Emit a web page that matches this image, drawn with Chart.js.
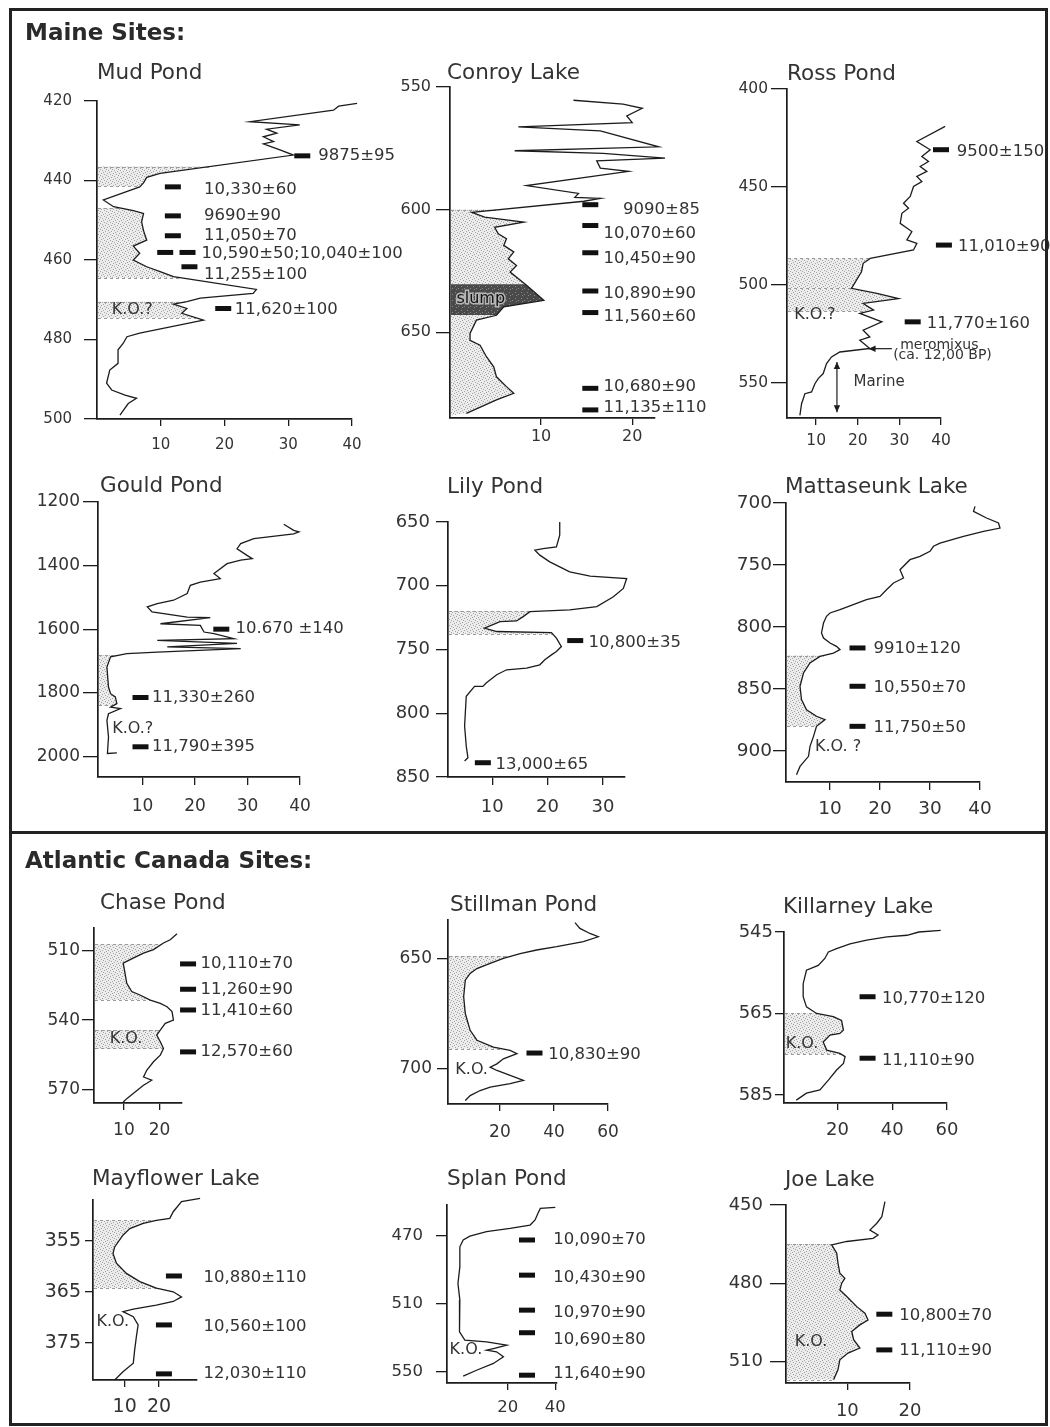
<!DOCTYPE html>
<html><head><meta charset="utf-8">
<script src="https://cdn.jsdelivr.net/npm/chart.js@4.4.1/dist/chart.umd.min.js"></script>
<style>
html,body{margin:0;padding:0;background:#fff;}
#page{position:relative;width:1050px;height:1427px;overflow:hidden;background:#fff;font-family:'DejaVu Sans',sans-serif;}
#page canvas{position:absolute;}
.frame{position:absolute;border:3px solid #222;box-sizing:border-box;}
.hdr{position:absolute;font:bold 23px 'DejaVu Sans',sans-serif;line-height:23px;color:#2a2a2a;white-space:nowrap;}
.ttl{position:absolute;font:21.5px 'DejaVu Sans',sans-serif;line-height:21.5px;color:#333;white-space:nowrap;}
</style></head><body><div id="page"></div>
<script>
// ---------------- DATA ----------------
const regionHeaders = ['Maine Sites:', 'Atlantic Canada Sites:'];
const siteNames = ['Mud Pond','Conroy Lake','Ross Pond','Gould Pond','Lily Pond','Mattaseunk Lake','Chase Pond','Stillman Pond','Killarney Lake','Mayflower Lake','Splan Pond','Joe Lake'];

// profiles are [value, depth] pairs
const mudProfile = [[40.8,420.6],[37.9,421.3],[37.1,422.3],[24,425.2],[31.8,426],[26.6,427.1],[28.2,428.1],[26.1,429],[27.7,430.2],[26.1,430.8],[28.7,432.3],[30.8,433.6],[9.9,438.2],[7.8,439.2],[7.3,440.6],[6.7,441.6],[1.0,444.9],[2.6,446.6],[5.7,447.6],[7.3,448.3],[7.0,450.4],[7.3,452.6],[7.8,455],[5.7,456.5],[6.7,458.3],[5.7,460],[7.8,461.7],[9.9,462.9],[12,464.2],[25.0,467.4],[24.5,468.4],[16.2,469.6],[14.1,470.5],[12,471.1],[14.1,472.2],[13.3,473.4],[16.7,475.1],[6.7,478.4],[4.7,479.3],[4.1,481],[3.3,482.6],[3.3,486],[2.0,487.7],[1.5,491],[2.3,492.7],[4.4,494],[6.2,494.8],[4.9,496.1],[3.6,499]];
const mudBars = [[32.2,433.8],[11.9,441.6],[11.9,448.9],[11.9,453.9],[10.7,458.1],[14.2,458.1],[14.5,461.7],[19.8,472.2]];
const mudDates = ['9875±95','10,330±60','9690±90','11,050±70','10,590±50;10,040±100','11,255±100','11,620±100'];
const mudDatePos = [[34.7,433.8],[16.8,442.4],[16.8,448.9],[16.8,453.9],[16.4,458.4],[16.8,463.8],[21.6,472.6]];
const mudNotes = ['K.O.?'];
const mudNotePos = [[2.3,472.6]];
const mudShades = [[436.5,441.5],[447,464.5],[470.5,474.5]];
const mudXRange = [0,40], mudYRange = [420,500];
const mudXTicks = [10,20,30,40], mudYTicks = [420,440,460,480,500];

const conroyProfile = [[13.55,555.4],[19.0,557.0],[21.1,558.7],[19.4,561.8],[20.0,564.5],[7.5,566.3],[16.5,567.9],[22.9,574.4],[7.1,576.0],[16.8,577.1],[23.6,579.0],[16.1,580.1],[16.5,583.1],[19.6,584.4],[8.4,590.2],[14.1,593.4],[13.7,595.0],[16.5,595.4],[14.7,596.6],[2.4,601.1],[3.8,603.1],[8.1,605.1],[4.9,607.2],[5.3,609.9],[6.2,611.9],[5.9,614.6],[7.0,617.3],[6.4,620.1],[7.3,622.8],[6.6,625.5],[8.4,630.9],[10.3,637.0],[5.9,639.7],[5.1,643.1],[2.9,645.1],[2.2,650.5],[2.2,653.3],[3.3,655.3],[4.0,660.0],[4.8,664.1],[5.1,668.2],[6.2,672.2],[7.0,674.9],[5.1,677.6],[1.8,683.1]];
const conroyBars = [[15.4,598.0],[15.4,606.5],[15.4,617.6],[15.4,633.2],[15.4,642.0],[15.4,672.9],[15.4,681.7]];
const conroyDates = ['9090±85','10,070±60','10,450±90','10,890±90','11,560±60','10,680±90','11,135±110'];
const conroyDatePos = [[19.0,600.1],[16.85,609.9],[16.85,620.0],[16.85,634.3],[16.85,643.8],[16.85,672.2],[16.85,681.0]];
const conroyNotes = ['slump'];
const conroyNotePos = [[0.7,636.3]];
const conroyShades = [[600,684]];
const conroySlump = [[630.5,643]];
const conroyXRange = [0,22.5], conroyYRange = [550,685];
const conroyXTicks = [10,20], conroyYTicks = [550,600,650];

const rossProfile = [[41.0,419.1],[34.2,426.8],[37.4,431.0],[35.4,434.5],[37.0,437.0],[35.0,439.6],[36.6,442.1],[34.2,444.7],[35.4,447.3],[33.4,449.8],[32.6,454.9],[31.0,458.3],[32.2,460.9],[30.6,463.5],[30.2,468.6],[33.0,472.8],[31.8,477.1],[34.2,478.8],[33.4,482.2],[23.0,486.5],[21.3,489.0],[20.9,493.3],[18.5,501.8],[24.6,504.4],[29.8,507.0],[21.3,509.5],[23.8,512.9],[20.5,514.6],[25.8,518.9],[21.3,523.2],[22.9,526.6],[20.5,528.3],[22.9,532.5],[15.7,534.3],[13.7,536.8],[12.5,540.2],[11.7,545.3],[10.5,547.9],[9.7,550.5],[8.9,554.7],[7.3,555.6],[6.5,560.7],[6.1,566.7]];
const rossBars = [[40.0,431.0],[40.7,479.7],[33.2,518.9]];
const rossDates = ['9500±150','11,010±90','11,770±160'];
const rossDatePos = [[43.8,431.9],[44.1,480.6],[36.6,519.7]];
const rossNotes = ['K.O.?','meromixus','(ca. 12,00 BP)','Marine'];
const rossNotePos = [[4.75,515.5],[30.2,530.9],[28.5,536.0],[19.0,549.6]];
const rossNoteSize = [16,14,14,15];
const rossArrows = [[28.2,532.6,22.6,532.6,1],[15.0,539.4,15.0,565,2]];
const rossShades = [[486.5,501.8],[501.8,513.5]];
const rossXRange = [3,40], rossYRange = [400,568];
const rossXTicks = [10,20,30,40], rossYTicks = [400,450,500,550];

const gouldProfile = [[36.9,1270],[38.8,1289],[39.8,1294],[38.8,1300],[31.2,1315],[28.7,1331],[28.0,1347],[29.9,1368],[30.9,1378],[28.7,1383],[26.1,1394],[23.6,1425],[24.8,1441],[21.0,1452],[19.1,1462],[18.5,1488],[15.9,1509],[12.8,1520],[10.9,1530],[11.8,1546],[18.5,1562],[22.9,1564],[13.4,1583],[21.0,1588],[21.7,1609],[23.6,1614],[27.4,1630],[12.8,1635],[28.0,1645],[14.7,1656],[28.7,1661],[12.8,1672],[7.0,1677],[3.9,1687],[3.2,1719],[3.5,1782],[3.9,1803],[4.8,1813],[5.1,1834],[3.9,1845],[5.8,1850],[3.5,1866],[3.2,1887],[3.5,1939],[3.3,1991],[5.1,1989]];
const gouldBars = [[25.0,1600],[9.6,1815],[9.6,1970]];
const gouldDates = ['10.670 ±140','11,330±260','11,790±395'];
const gouldDatePos = [[27.7,1600],[11.8,1815],[11.8,1970]];
const gouldNotes = ['K.O.?'];
const gouldNotePos = [[4.2,1912.6]];
const gouldShades = [[1682,1840]];
const gouldXRange = [1.5,40], gouldYRange = [1200,2065];
const gouldXTicks = [10,20,30,40], gouldYTicks = [1200,1400,1600,1800,2000];

const lilyProfile = [[22.2,650],[22.2,660.4],[21.6,669.5],[19.2,670.8],[17.7,672.1],[18.6,676],[20.4,681.3],[22.2,685.2],[24.0,689.1],[27.7,692.4],[34.3,694.3],[33.7,702.1],[31.9,708.6],[28.9,716.4],[24.0,719],[16.8,720.3],[15.6,724.2],[14.4,727.6],[11.4,728.1],[8.6,733.3],[10.8,735.9],[20.7,736.7],[21.6,741.1],[22.5,747.7],[21.6,751.6],[20.7,754.2],[19.5,758.1],[18.6,762],[16.2,764.6],[12.6,765.9],[10.8,769.8],[8.9,776.3],[8.3,778.9],[6.8,778.9],[5.3,786.7],[5.0,810],[5.3,825.8],[5.6,834.9],[5.0,837.5]];
const lilyBars = [[25.0,743],[8.3,838.8]];
const lilyDates = ['10,800±35','13,000±65'];
const lilyDatePos = [[27.4,745],[10.6,840.1]];
const lilyNotes = [];
const lilyNotePos = [];
const lilyShades = [[720,738]];
const lilyXRange = [2,34], lilyYRange = [650,850];
const lilyXTicks = [10,20,30], lilyYTicks = [650,700,750,800,850];

const mattProfile = [[39,702.7],[38.7,706.7],[41.3,712.1],[43.7,716.1],[44,720.2],[40.7,722.8],[36.7,726.9],[32,732.3],[30.7,734.9],[30,739],[28,743],[26,745.7],[24,753.8],[24.7,760.5],[22.7,764.5],[21.3,769.9],[20,775.3],[17.3,778],[12,786],[10,788.7],[9.3,791.4],[8.7,796.8],[8.3,804.8],[8.7,808.9],[10,812.9],[11.3,815.6],[12,818.3],[10.7,821],[8,823.7],[6,829],[4.7,837.1],[4,847.8],[4.3,858.6],[5.3,866.7],[7.3,872],[9,874.7],[7.3,880.1],[6.7,888.2],[6,896.2],[5.7,904.3],[4,912.4],[3.3,919.1]];
const mattBars = [[15.5,816.9],[15.5,847.8],[15.5,880.1]];
const mattDates = ['9910±120','10,550±70','11,750±50'];
const mattDatePos = [[18.7,817.7],[18.7,848.7],[18.7,880.9]];
const mattNotes = ['K.O. ?'];
const mattNotePos = [[7.0,896.3]];
const mattShades = [[823,880]];
const mattXRange = [1.2,40], mattYRange = [700,925];
const mattXTicks = [10,20,30,40], mattYTicks = [700,750,800,850,900];

const chaseProfile = [[24.9,502.5],[23,505.1],[21.1,506.5],[18.3,509.4],[15.5,510.9],[12.6,513.1],[9.8,515.3],[10.3,519.6],[10.8,524],[12.2,527.6],[14.5,529.1],[17.4,531.3],[20.2,532.7],[22.1,534.2],[23.5,536.3],[23.9,540],[21.6,541.4],[20.2,544.3],[19.2,546.5],[20.2,549.4],[21.1,552.3],[20.2,555.2],[18.3,558.1],[16.4,561.8],[15.5,564.7],[17.8,566.1],[15.5,568.3],[12.6,571.9],[10.8,574.1],[9.8,575.6]];
const chaseBars = [[28.0,515.6],[28.0,526.6],[28.0,535.6],[28.0,553.8]];
const chaseDates = ['10,110±70','11,260±90','11,410±60','12,570±60'];
const chaseDatePos = [[31.5,515.6],[31.5,526.6],[31.5,536],[31.5,553.8]];
const chaseNotes = ['K.O.'];
const chaseNotePos = [[6.0,548.0]];
const chaseShades = [[507,531.3],[544.3,552.3]];
const chaseXRange = [1.6,26.3], chaseYRange = [500,576];
const chaseXTicks = [10,20], chaseYTicks = [510,540,570];

const stillProfile = [[47.8,633.8],[49.6,636.4],[53.3,638.7],[56.4,640.2],[50.9,642.4],[41,644.7],[33.6,646.2],[27.5,647.8],[21.3,650],[16.4,652.3],[11.5,654.6],[9,656.8],[7.2,659.9],[6.6,667.4],[7.2,675],[9,682.6],[11.5,687.1],[17.6,690.2],[23.8,691.7],[26.3,693.2],[21.3,695.5],[18.9,697.8],[16.4,699.3],[18.9,700.8],[23.8,703],[28.7,705.3],[23.8,706.8],[16.4,708.4],[12.7,709.9],[9,712.2],[7.2,714.4]];
const stillBars = [[32.8,692.9]];
const stillDates = ['10,830±90'];
const stillDatePos = [[37.9,693.7]];
const stillNotes = ['K.O.'];
const stillNotePos = [[3.5,700.5]];
const stillShades = [[649,691]];
const stillXRange = [0.8,60], stillYRange = [632.6,716];
const stillXTicks = [20,40,60], stillYTicks = [650,700];

const killProfile = [[57.7,544.6],[49.7,545],[45.4,545.8],[38.1,546.2],[30.7,547],[24.6,547.9],[19.7,549.1],[16.7,549.9],[15.4,551.5],[13,553.2],[8.7,554.4],[7.5,557.7],[7.5,560.9],[8.7,563.4],[12.4,565],[18.5,565.8],[21.5,566.7],[22.2,569.1],[20.9,569.9],[17.3,570.3],[14.8,572],[16.1,574],[20.9,574.8],[22.8,575.6],[22.2,577.3],[19.7,578.9],[16.7,581.4],[13.6,583.8],[8.7,584.6],[5,586.3]];
const killBars = [[31,560.9],[31,576.0]];
const killDates = ['10,770±120','11,110±90'];
const killDatePos = [[36.3,561.3],[36.3,576.6]];
const killNotes = ['K.O.'];
const killNotePos = [[1.1,572.5]];
const killShades = [[565,575]];
const killXRange = [0.5,60], killYRange = [545,587];
const killXTicks = [20,40,60], killYTicks = [545,565,585];

const mayProfile = [[31.9,346.7],[26.5,347.3],[24.1,349.3],[23.1,350.6],[19.2,351],[15.4,351.6],[11.5,352.6],[9.5,353.9],[7.1,356.2],[6.6,357.5],[7.6,359.4],[10.5,361.4],[14.4,363],[19.2,364.3],[24.1,365],[26.5,366],[24.1,366.9],[19.2,367.6],[12.5,368.4],[9.5,368.9],[12.5,369.9],[13.9,371.5],[13.4,373.8],[12.9,376.4],[12.5,379],[9.5,380.7],[7.1,382.3]];
const mayBars = [[24.3,361.9],[21.4,371.5],[21.4,381.1]];
const mayDates = ['10,880±110','10,560±100','12,030±110'];
const mayDatePos = [[32.9,362.2],[32.9,371.8],[32.9,381.0]];
const mayNotes = ['K.O.'];
const mayNotePos = [[1.8,370.9]];
const mayShades = [[351,364.3]];
const mayXRange = [0.8,31], mayYRange = [347,382.3];
const mayXTicks = [10,20], mayYTicks = [355,365,375];

const splanProfile = [[40,453.1],[33.7,453.7],[32.7,456.6],[31.5,460.5],[29.4,463.5],[21,465.5],[11.1,467.4],[4.1,470],[1.3,472.3],[-0.1,476.3],[-0.1,488],[-0.9,497.9],[-0.1,507.7],[-0.4,517.5],[-0.1,526.4],[2,531.3],[11.1,532.3],[19.6,534.2],[14,536.2],[11.1,537.2],[15.3,538.1],[18.2,541.1],[14,545],[6.9,549],[1.3,552.5]];
const splanBars = [[28.1,472.3],[28.1,493.0],[28.1,513.6],[28.1,526.9],[28.1,551.9]];
const splanDates = ['10,090±70','10,430±90','10,970±90','10,690±80','11,640±90'];
const splanDatePos = [[39.1,472.3],[39.1,494.5],[39.1,515.1],[39.1,530.8],[39.1,551.2]];
const splanNotes = ['K.O.'];
const splanNotePos = [[-4.4,537.2]];
const splanShades = [];
const splanXRange = [-5.5,40.7], splanYRange = [451.7,556.5];
const splanXTicks = [20,40], splanYTicks = [470,510,550];

const joeProfile = [[16,448.7],[15.5,454.5],[14.7,457],[13.6,459.6],[14.9,461.5],[14.1,462.8],[9.9,464],[7.5,465.3],[8.3,468.5],[8.5,472.3],[8.8,476.2],[9.6,478.1],[9.1,480],[8.8,482.6],[9.9,485.1],[11.5,489],[12.8,491.5],[13.3,494.1],[12,496],[10.7,498.5],[11,501.7],[12,504.9],[10.1,506.8],[8.8,509.4],[8.5,513.2],[7.8,517]];
const joeBars = [[15.9,491.9],[15.9,505.6]];
const joeDates = ['10,800±70','11,110±90'];
const joeDatePos = [[18.3,492.5],[18.3,506.1]];
const joeNotes = ['K.O.'];
const joeNotePos = [[1.6,502.4]];
const joeShades = [[465,517]];
const joeXRange = [0.2,20], joeYRange = [450,518.3];
const joeXTicks = [10,20], joeYTicks = [450,480,510];

// ---------------- PANEL TABLE (built from the arrays) ----------------
const panels = [
 {profile:mudProfile,bars:mudBars,dates:mudDates,datePos:mudDatePos,notes:mudNotes,notePos:mudNotePos,shades:mudShades,xr:mudXRange,yr:mudYRange,xt:mudXTicks,yt:mudYTicks},
 {profile:conroyProfile,bars:conroyBars,dates:conroyDates,datePos:conroyDatePos,notes:conroyNotes,notePos:conroyNotePos,shades:conroyShades,slump:conroySlump,xr:conroyXRange,yr:conroyYRange,xt:conroyXTicks,yt:conroyYTicks},
 {profile:rossProfile,bars:rossBars,dates:rossDates,datePos:rossDatePos,notes:rossNotes,notePos:rossNotePos,noteSize:rossNoteSize,arrows:rossArrows,shades:rossShades,xr:rossXRange,yr:rossYRange,xt:rossXTicks,yt:rossYTicks},
 {profile:gouldProfile,bars:gouldBars,dates:gouldDates,datePos:gouldDatePos,notes:gouldNotes,notePos:gouldNotePos,shades:gouldShades,xr:gouldXRange,yr:gouldYRange,xt:gouldXTicks,yt:gouldYTicks},
 {profile:lilyProfile,bars:lilyBars,dates:lilyDates,datePos:lilyDatePos,notes:lilyNotes,notePos:lilyNotePos,shades:lilyShades,xr:lilyXRange,yr:lilyYRange,xt:lilyXTicks,yt:lilyYTicks},
 {profile:mattProfile,bars:mattBars,dates:mattDates,datePos:mattDatePos,notes:mattNotes,notePos:mattNotePos,shades:mattShades,xr:mattXRange,yr:mattYRange,xt:mattXTicks,yt:mattYTicks},
 {profile:chaseProfile,bars:chaseBars,dates:chaseDates,datePos:chaseDatePos,notes:chaseNotes,notePos:chaseNotePos,shades:chaseShades,xr:chaseXRange,yr:chaseYRange,xt:chaseXTicks,yt:chaseYTicks},
 {profile:stillProfile,bars:stillBars,dates:stillDates,datePos:stillDatePos,notes:stillNotes,notePos:stillNotePos,shades:stillShades,xr:stillXRange,yr:stillYRange,xt:stillXTicks,yt:stillYTicks},
 {profile:killProfile,bars:killBars,dates:killDates,datePos:killDatePos,notes:killNotes,notePos:killNotePos,shades:killShades,xr:killXRange,yr:killYRange,xt:killXTicks,yt:killYTicks},
 {profile:mayProfile,bars:mayBars,dates:mayDates,datePos:mayDatePos,notes:mayNotes,notePos:mayNotePos,shades:mayShades,xr:mayXRange,yr:mayYRange,xt:mayXTicks,yt:mayYTicks},
 {profile:splanProfile,bars:splanBars,dates:splanDates,datePos:splanDatePos,notes:splanNotes,notePos:splanNotePos,shades:splanShades,xr:splanXRange,yr:splanYRange,xt:splanXTicks,yt:splanYTicks},
 {profile:joeProfile,bars:joeBars,dates:joeDates,datePos:joeDatePos,notes:joeNotes,notePos:joeNotePos,shades:joeShades,xr:joeXRange,yr:joeYRange,xt:joeXTicks,yt:joeYTicks}
];

// ---------------- LAYOUT (page geometry & styling) ----------------
const frames = [
 {left:97,right:352,top:101,bottom:419,font:15,ytl:13,ygap:25,xtl:7,xoff:26,tx:97,ty:79,col:440},
 {left:450,right:654.75,top:87,bottom:418,font:16,ytl:14,ygap:19,xtl:7,xoff:19,tx:447,ty:79,col:770},
 {left:787,right:941,top:89,bottom:417.6,font:15.5,ytl:16,ygap:19,xtl:7,xoff:23,tx:787,ty:80,col:1050},
 {left:98,right:300,top:502,bottom:776.8,font:17,ytl:15,ygap:18,xtl:8,xoff:30,tx:100,ty:492,col:440},
 {left:448,right:625,top:522,bottom:777.3,font:18,ytl:12,ygap:18,xtl:8,xoff:30,tx:447,ty:493,col:770},
 {left:786,right:980,top:503,bottom:782.3,font:18.5,ytl:13,ygap:14,xtl:8,xoff:27,tx:785,ty:493,col:1050},
 {left:94,right:181.7,top:928,bottom:1102.6,font:17,ytl:12,ygap:14,xtl:7,xoff:28,tx:100,ty:909,col:440},
 {left:448,right:608.3,top:920,bottom:1103.5,font:17,ytl:11,ygap:16,xtl:7,xoff:28.5,tx:450,ty:911,col:770},
 {left:784,right:946.7,top:932,bottom:1103.1,font:18,ytl:9,ygap:11,xtl:7,xoff:27,tx:783,ty:913,col:1050},
 {left:93,right:196.9,top:1200,bottom:1380,font:19,ytl:8,ygap:12,xtl:7,xoff:27,tx:92,ty:1185,col:440},
 {left:447,right:556.6,top:1205,bottom:1382.7,font:16.5,ytl:11,ygap:24,xtl:7,xoff:25,tx:447,ty:1185,col:770},
 {left:786,right:910,top:1205,bottom:1383.3,font:18,ytl:16,ygap:23,xtl:7,xoff:28,tx:785,ty:1186,col:1050}
];

const INK = '#1c1c1c', TXT = '#333', FAM = "'DejaVu Sans', sans-serif";
Chart.defaults.font.family = FAM;

function makeTile(base, dot, pts){
  const c=document.createElement('canvas'); c.width=c.height=6;
  const g=c.getContext('2d'); g.fillStyle=base; g.fillRect(0,0,6,6);
  g.fillStyle=dot; pts.forEach(([a,b])=>g.fillRect(a,b,1,1)); return c;
}
const stippleTile = makeTile('#ececec','#a4a4a4',[[0,0],[3,1],[1,3],[4,4],[5,2],[2,5]]);
const slumpTile = makeTile('#4a4a4a','#888',[[1,1],[4,3],[2,4]]);

function clipProfile(prof, t, b){
  const out=[];
  for(let i=0;i<prof.length-1;i++){
    const [v0,d0]=prof[i], [v1,d1]=prof[i+1];
    let s0=0,s1=1;
    if(d1!==d0){
      const a=(t-d0)/(d1-d0), c=(b-d0)/(d1-d0);
      s0=Math.max(0,Math.min(a,c)); s1=Math.min(1,Math.max(a,c));
      if(s0>s1) continue;
    } else if(d0<t||d0>b) continue;
    out.push([v0+(v1-v0)*s0,d0+(d1-d0)*s0]); out.push([v0+(v1-v0)*s1,d0+(d1-d0)*s1]);
  }
  return out;
}
function valueAt(prof, d){
  for(let i=0;i<prof.length-1;i++){
    const [v0,d0]=prof[i],[v1,d1]=prof[i+1];
    if((d-d0)*(d-d1)<=0 && d1!==d0) return v0+(v1-v0)*(d-d0)/(d1-d0);
  }
  return null;
}
function head(ctx,x0,y0,x1,y1){
  const a=Math.atan2(y1-y0,x1-x0), L=7, W=3.2;
  ctx.beginPath(); ctx.moveTo(x1,y1);
  ctx.lineTo(x1-L*Math.cos(a)+W*Math.sin(a), y1-L*Math.sin(a)-W*Math.cos(a));
  ctx.lineTo(x1-L*Math.cos(a)-W*Math.sin(a), y1-L*Math.sin(a)+W*Math.cos(a));
  ctx.closePath(); ctx.fill();
}

function annotPlugin(p){
  return {
    id:'annot',
    beforeDatasetsDraw(chart){
      const {ctx, scales:{x,y}} = chart;
      const x0 = x.getPixelForValue(p.xr[0]) + 1;
      const fillZone = (zones, tile) => zones.forEach(([t,b])=>{
        const pts = clipProfile(p.profile,t,b);
        ctx.save(); ctx.beginPath();
        ctx.moveTo(x0, y.getPixelForValue(t));
        pts.forEach(([v,d])=>ctx.lineTo(x.getPixelForValue(v), y.getPixelForValue(d)));
        ctx.lineTo(x0, y.getPixelForValue(b)); ctx.closePath();
        ctx.fillStyle = ctx.createPattern(tile,'repeat'); ctx.fill(); ctx.restore();
      });
      fillZone(p.shades||[], stippleTile);
      fillZone(p.slump||[], slumpTile);
      ctx.save(); ctx.strokeStyle='#9a9a9a'; ctx.lineWidth=1; ctx.setLineDash([3,3]);
      (p.shades||[]).forEach(([t,b])=>[t,b].forEach(d=>{
        const v=valueAt(p.profile,d); if(v===null) return;
        const yy=Math.round(y.getPixelForValue(d))+0.5;
        ctx.beginPath(); ctx.moveTo(x0,yy); ctx.lineTo(x.getPixelForValue(v),yy); ctx.stroke();
      }));
      ctx.restore();
    },
    afterDatasetsDraw(chart){
      const {ctx, scales:{x,y}} = chart;
      ctx.save();
      ctx.textBaseline='middle'; ctx.textAlign='left';
      ctx.fillStyle=TXT; ctx.font='16.5px '+FAM;
      p.dates.forEach((t,i)=>ctx.fillText(t, x.getPixelForValue(p.datePos[i][0]), y.getPixelForValue(p.datePos[i][1])));
      p.notes.forEach((t,i)=>{
        const sz = p.noteSize ? p.noteSize[i] : 16;
        ctx.font = sz+'px '+FAM;
        const px=x.getPixelForValue(p.notePos[i][0]), py=y.getPixelForValue(p.notePos[i][1]);
        if(p.slump && t==='slump'){
          ctx.lineWidth=3; ctx.strokeStyle='#b5b5b5'; ctx.strokeText(t,px,py);
          ctx.fillStyle='#111'; ctx.fillText(t,px,py); ctx.fillStyle=TXT;
        } else ctx.fillText(t,px,py);
      });
      (p.arrows||[]).forEach(([v0,d0,v1,d1,n])=>{
        const a=x.getPixelForValue(v0), b=y.getPixelForValue(d0), c=x.getPixelForValue(v1), e=y.getPixelForValue(d1);
        ctx.strokeStyle=INK; ctx.fillStyle=INK; ctx.lineWidth=1.2;
        ctx.beginPath(); ctx.moveTo(a,b); ctx.lineTo(c,e); ctx.stroke();
        head(ctx,a,b,c,e); if(n===2) head(ctx,c,e,a,b);
      });
      ctx.restore();
    }
  };
}

const page = document.getElementById('page');
const YW=80, T=30, XH=50;

panels.forEach((p,i)=>{
  const f = frames[i];
  const L = Math.round(f.left), Rr = Math.round(f.right), Tp = Math.round(f.top), B = Math.round(f.bottom);
  const cl = L - YW, ct = Tp - T;
  const cw = f.col - cl, ch = (B - ct) + XH;
  const R = f.col - Rr;
  const cv = document.createElement('canvas');
  cv.width = cw; cv.height = ch;
  cv.style.left = cl+'px'; cv.style.top = ct+'px';
  cv.style.width = cw+'px'; cv.style.height = ch+'px';
  page.appendChild(cv);

  const gridOpt = tl => ({display:true, drawOnChartArea:false, drawTicks:true, tickLength:tl, color:INK, lineWidth:1.3});
  new Chart(cv.getContext('2d'), {
    type:'scatter',
    data:{datasets:[
      {data:p.profile.map(([v,d])=>({x:v,y:d})), showLine:true, borderColor:INK, borderWidth:1.3, pointRadius:0, tension:0, clip:false},
      {data:p.bars.map(([v,d])=>({x:v,y:d})), showLine:false, pointStyle:'line', pointRadius:8, pointBorderWidth:5, borderWidth:5, borderColor:'#111', pointBorderColor:'#111', clip:false}
    ]},
    options:{
      responsive:false, animation:false, devicePixelRatio:1, events:[],
      layout:{padding:{top:T,right:R,bottom:0,left:0}},
      plugins:{legend:{display:false}, tooltip:{enabled:false}, title:{display:false}},
      scales:{
        // x range is fixed through callbacks (not user bounds) so that marks lying just beyond the axis end are still drawn
        x:{type:'linear', position:'bottom', bounds:'data',
           afterDataLimits:s=>{s.min=p.xr[0]; s.max=p.xr[1];},
           afterFit:s=>{s.height=XH;},
           afterBuildTicks:s=>{s.min=p.xr[0]; s.max=p.xr[1]; s.ticks=p.xt.map(v=>({value:v}));},
           grid:gridOpt(f.xtl), border:{display:true,color:INK,width:1.7},
           ticks:{font:{size:f.font,family:FAM}, color:TXT, padding:f.xoff-f.xtl-0.6*f.font, autoSkip:false, maxRotation:0, callback:v=>String(v)}},
        y:{type:'linear', position:'left', reverse:true, min:p.yr[0], max:p.yr[1],
           afterFit:s=>{s.width=YW;},
           afterBuildTicks:s=>{s.ticks=p.yt.map(v=>({value:v}));},
           grid:gridOpt(f.ytl), border:{display:true,color:INK,width:1.7},
           ticks:{font:{size:f.font,family:FAM}, color:TXT, padding:f.ygap-f.ytl, autoSkip:false, callback:v=>String(v)}}
      }
    },
    plugins:[annotPlugin(p)]
  });

  const tt = document.createElement('div');
  tt.className='ttl'; tt.textContent = siteNames[i];
  tt.style.left = f.tx+'px'; tt.style.top = (f.ty - 0.846*21.5)+'px';
  page.appendChild(tt);
});

[[9,8,1039,826],[9,831,1039,595]].forEach(([l,t,w,h])=>{
  const d=document.createElement('div'); d.className='frame';
  d.style.left=l+'px'; d.style.top=t+'px'; d.style.width=w+'px'; d.style.height=h+'px';
  page.appendChild(d);
});
[[25,40.7],[25,868.3]].forEach(([l,b],i)=>{
  const d=document.createElement('div'); d.className='hdr'; d.textContent=regionHeaders[i];
  d.style.left=l+'px'; d.style.top=(b-0.846*23)+'px'; page.appendChild(d);
});
</script></body></html>
